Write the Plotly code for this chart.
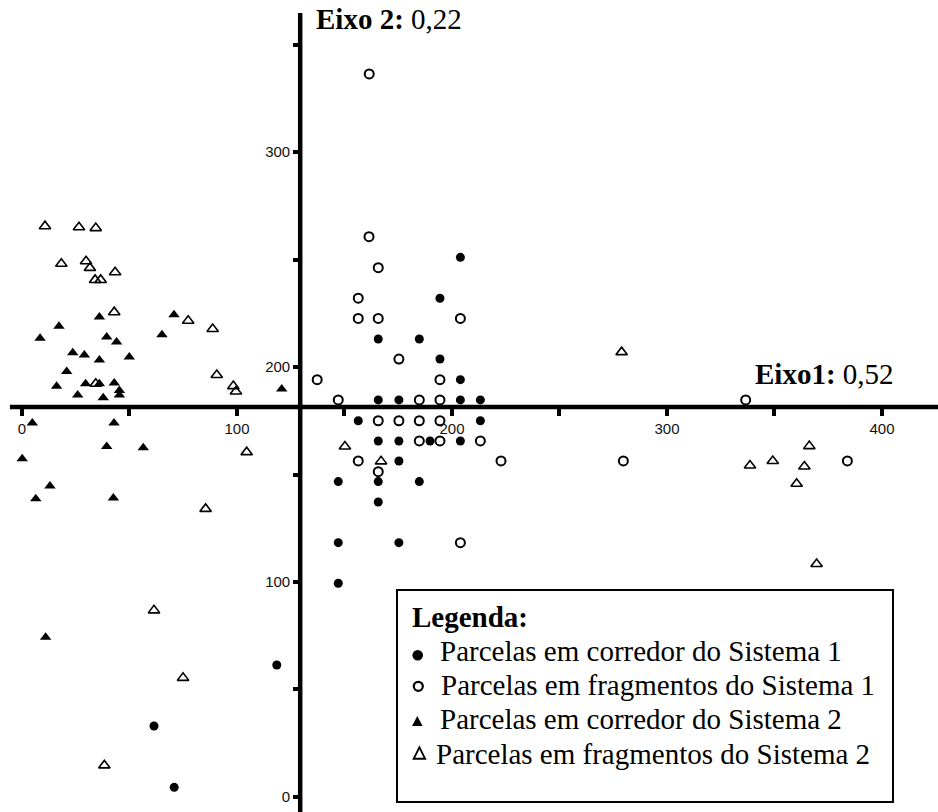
import plotly.graph_objects as go

W, H = 938, 812

# ---------------- data (axis units) ----------------
# Parcelas em corredor do Sistema 1 (filled circles)
corr_s1_x = [203.9, 194.4, 165.7, 184.8, 194.4, 203.9,
             165.7, 175.3, 203.9, 213.2,
             156.4, 213.2,
             165.7, 175.3, 189.8, 203.9,
             175.3,
             147.1, 165.7, 184.8,
             165.7,
             147.1, 175.3,
             147.1,
             118.5, 61.4, 70.8]
corr_s1_y = [251.0, 232.0, 213.0, 213.0, 203.7, 194.1,
             184.7, 184.7, 184.7, 184.7,
             175.0, 175.0,
             165.6, 165.6, 165.6, 165.6,
             156.3,
             146.7, 146.7, 146.7,
             137.2,
             118.3, 118.3,
             99.4,
             61.4, 33.0, 4.5]

# Parcelas em fragmentos do Sistema 1 (open circles)
frag_s1_x = [161.5, 161.4, 165.7, 156.4, 156.4, 165.7, 203.9,
             175.3, 137.3, 194.4,
             147.1, 184.8, 194.4,
             165.7, 175.3, 184.8, 194.4,
             184.8, 194.4, 213.2,
             156.4, 222.8, 165.7, 203.9,
             336.6, 279.7, 383.9]
frag_s1_y = [336.3, 260.6, 246.2, 232.0, 222.6, 222.6, 222.6,
             203.7, 194.1, 194.1,
             184.7, 184.7, 184.7,
             175.0, 175.0, 175.0, 175.0,
             165.6, 165.6, 165.6,
             156.3, 156.3, 151.3, 118.3,
             184.7, 156.3, 156.3]

# Parcelas em corredor do Sistema 2 (filled triangles)
corr_s2_x = [36.0, 17.2, 8.4, 39.4, 44.0, 70.7, 65.1, 23.6, 29.0, 36.0,
             49.9, 20.8, 16.1, 29.6, 36.0, 42.9, 45.3, 45.3, 25.9, 37.8,
             120.8, 4.8, 42.8, 39.4, 56.4, 0.1, 13.0, 6.4, 42.5, 11.0]
corr_s2_y = [223.2, 219.0, 213.4, 213.9, 211.6, 224.3, 215.0, 206.6, 205.6, 203.3,
             204.6, 197.9, 191.1, 192.2, 192.2, 192.6, 189.1, 187.0, 187.0, 185.7,
             189.8, 174.0, 174.0, 163.0, 162.4, 157.3, 144.6, 138.7, 139.1, 74.3]

# Parcelas em fragmentos do Sistema 2 (open triangles)
frag_s2_x = [10.7, 26.5, 34.3, 18.3, 29.8, 31.6, 43.3, 34.0, 36.6, 42.9,
             77.3, 88.7, 90.6, 98.3, 99.5, 34.3, 104.5, 85.4, 61.4, 74.9,
             38.3, 150.2, 167.0, 278.9, 338.6, 349.2, 366.2, 363.9, 360.3, 369.6]
frag_s2_y = [265.5, 265.0, 264.6, 248.0, 249.2, 246.1, 244.1, 240.5, 240.5, 225.5,
             221.5, 217.7, 196.3, 191.1, 188.6, 192.2, 160.4, 134.0, 86.8, 55.4,
             14.7, 163.0, 156.1, 206.9, 154.2, 156.3, 163.2, 153.7, 145.7, 108.4]

x_tick_vals = [0, 50, 100, 150, 200, 250, 300, 350, 400]
x_tick_text = ["0", "", "100", "", "200", "", "300", "", "400"]
y_tick_vals = [0, 50, 100, 150, 200, 250, 300, 350]
y_tick_text = ["0", "", "100", "", "200", "", "300", ""]

axis1_cross_y = 181.4   # height where Eixo 1 crosses
axis2_cross_x = 129.4   # position where Eixo 2 crosses
x_range = [-10.23, 426.05]
y_range = [-6.98, 370.70]

legend_labels = ["Parcelas em corredor do Sistema 1",
                 "Parcelas em fragmentos do Sistema 1",
                 "Parcelas em corredor do Sistema 2",
                 "Parcelas em fragmentos do Sistema 2"]

# ---------------- helpers (page pixels -> paper) ----------------
def px(x):
    return x / W

def py(y):
    return 1 - y / H

def tri_path(cx, cy, w, h):
    return ("M {:.5f},{:.5f} L {:.5f},{:.5f} L {:.5f},{:.5f} Z".format(
        px(cx - w / 2), py(cy + h / 2), px(cx + w / 2), py(cy + h / 2),
        px(cx), py(cy - h / 2)))

fig = go.Figure()

fig.add_trace(go.Scatter(x=corr_s1_x, y=corr_s1_y, mode="markers",
                         marker=dict(symbol="circle", size=9, color="black"),
                         name=legend_labels[0]))
fig.add_trace(go.Scatter(x=frag_s1_x, y=frag_s1_y, mode="markers",
                         marker=dict(symbol="circle-open", size=9, color="black",
                                     line=dict(width=2)),
                         name=legend_labels[1]))
fig.add_trace(go.Scatter(x=corr_s2_x, y=corr_s2_y, mode="markers",
                         marker=dict(symbol="triangle-up", size=10, color="black"),
                         name=legend_labels[2]))
fig.add_trace(go.Scatter(x=frag_s2_x, y=frag_s2_y, mode="markers",
                         marker=dict(symbol="triangle-up-open", size=10, color="black",
                                     line=dict(width=1.6)),
                         name=legend_labels[3]))

pos_x = (axis1_cross_y - y_range[0]) / (y_range[1] - y_range[0])
pos_y = (axis2_cross_x - x_range[0]) / (x_range[1] - x_range[0])

tickfont = dict(family="Liberation Sans, Arial, sans-serif", size=15, color="#111")

shapes = [
    dict(type="line", xref="x", yref="y", x0=-5.6, x1=x_range[1],
         y0=axis1_cross_y, y1=axis1_cross_y, line=dict(color="black", width=4.5),
         layer="below"),
    dict(type="line", xref="x", yref="y", x0=axis2_cross_x, x1=axis2_cross_x,
         y0=y_range[0], y1=364.7, line=dict(color="black", width=4.5),
         layer="below"),
    dict(type="rect", xref="paper", yref="paper", x0=px(397), x1=px(893),
         y0=py(802), y1=py(590), line=dict(color="black", width=2),
         fillcolor="white", layer="below"),
    # legend swatches
    dict(type="circle", xref="paper", yref="paper",
         x0=px(417.7 - 5.3), x1=px(417.7 + 5.3), y0=py(655.3 + 5.3), y1=py(655.3 - 5.3),
         fillcolor="black", line=dict(width=0)),
    dict(type="circle", xref="paper", yref="paper",
         x0=px(418.3 - 4.5), x1=px(418.3 + 4.5), y0=py(686.3 + 4.5), y1=py(686.3 - 4.5),
         fillcolor="rgba(0,0,0,0)", line=dict(color="black", width=2.2)),
    dict(type="path", xref="paper", yref="paper", path=tri_path(417.3, 721, 10.5, 10),
         fillcolor="black", line=dict(width=0)),
    dict(type="path", xref="paper", yref="paper", path=tri_path(419.4, 753, 11.5, 11.5),
         fillcolor="rgba(0,0,0,0)", line=dict(color="black", width=1.8)),
]

serif = "Liberation Serif, Times New Roman, serif"
annotations = [
    dict(text="<b>Eixo 2:</b> 0,22", x=px(315), y=py(19.5), xref="paper", yref="paper",
         xanchor="left", yanchor="middle", showarrow=False, borderpad=0,
         font=dict(family=serif, size=29, color="black")),
    dict(text="<b>Eixo1:</b> 0,52", x=px(754), y=py(373.5), xref="paper", yref="paper",
         xanchor="left", yanchor="middle", showarrow=False, borderpad=0,
         font=dict(family=serif, size=29, color="black")),
    dict(text="<b>Legenda:</b>", x=px(411), y=py(617), xref="paper", yref="paper",
         xanchor="left", yanchor="middle", showarrow=False, borderpad=0,
         font=dict(family=serif, size=29, color="black")),
]

text_y = [651.2, 685.2, 718.5, 754.2]
text_x = [439, 440, 439, 434.5]
for i, lab in enumerate(legend_labels):
    annotations.append(dict(text=lab, x=px(text_x[i]), y=py(text_y[i]),
                            xref="paper", yref="paper", xanchor="left",
                            yanchor="middle", showarrow=False, borderpad=0,
                            font=dict(family=serif, size=29, color="black")))

fig.update_layout(
    width=W, height=H,
    margin=dict(l=0, r=0, t=0, b=0, pad=0),
    paper_bgcolor="white", plot_bgcolor="white",
    showlegend=False,
    hovermode=False,
    xaxis=dict(range=x_range, anchor="free", position=pos_x, showgrid=False,
               zeroline=False, showline=False, ticks="outside", ticklen=8,
               tickwidth=4, tickcolor="black", tickmode="array",
               tickvals=x_tick_vals, ticktext=x_tick_text, tickfont=tickfont,
               fixedrange=True),
    yaxis=dict(range=y_range, anchor="free", position=pos_y, showgrid=False,
               zeroline=False, showline=False, ticks="outside", ticklen=7,
               tickwidth=4, tickcolor="black", tickmode="array",
               tickvals=y_tick_vals, ticktext=y_tick_text, tickfont=tickfont,
               fixedrange=True),
    shapes=shapes,
    annotations=annotations,
)

fig.write_html("out.html")
